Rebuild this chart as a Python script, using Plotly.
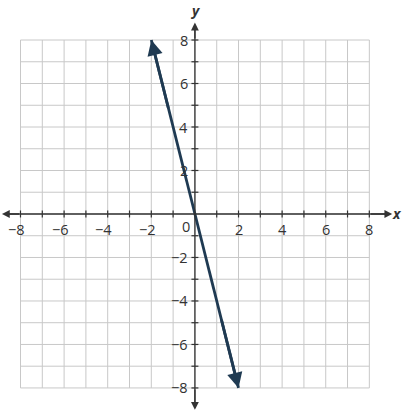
import plotly.graph_objects as go

# grid and tick values
grid_vals = list(range(-8, 9))
label_vals = [-8, -6, -4, -2, 2, 4, 6, 8]

# the line y = -4x, drawn between its two arrow tips
line_x = [-2, 2]
line_y = [8, -8]

LINE = "#1f3a52"
AXIS = "#333333"
GRID = "#c8c8c8"
FONT = "Open Sans"

fig = go.Figure()

shapes = []
for v in grid_vals:
    shapes.append(dict(type="line", x0=v, x1=v, y0=-8, y1=8, line=dict(color=GRID, width=1), layer="below"))
    shapes.append(dict(type="line", x0=-8, x1=8, y0=v, y1=v, line=dict(color=GRID, width=1), layer="below"))

# axes
shapes.append(dict(type="line", x0=-8.7, x1=8.9, y0=0, y1=0, line=dict(color=AXIS, width=1.3)))
shapes.append(dict(type="line", x0=0, x1=0, y0=-8.85, y1=8.6, line=dict(color=AXIS, width=1.3)))

# tick marks
for v in grid_vals:
    if v == 0:
        continue
    shapes.append(dict(type="line", x0=v, x1=v, y0=-0.16, y1=0.16, line=dict(color=AXIS, width=1.2)))
    shapes.append(dict(type="line", x0=-0.16, x1=0.16, y0=v, y1=v, line=dict(color=AXIS, width=1.2)))

annotations = []
# axis arrowheads
for tip, tail in [((9.05, 0), (8.0, 0)), ((-8.85, 0), (-8.0, 0)), ((0, 8.8), (0, 8.0)), ((0, -9.0), (0, -8.0))]:
    annotations.append(dict(x=tip[0], y=tip[1], ax=tail[0], ay=tail[1], xref="x", yref="y", axref="x", ayref="y",
                            text="", showarrow=True, arrowhead=2, arrowsize=1.2, arrowwidth=1.3, arrowcolor=AXIS))

# tick labels
for v in label_vals:
    txt = str(v).replace("-", "\u2212")
    annotations.append(dict(x=v, y=0, text=txt, showarrow=False, xref="x", yref="y", yshift=-16,
                            xshift=-4 if v < 0 else 0, font=dict(family=FONT, size=14.5, color="#333")))
    annotations.append(dict(x=0, y=v, text=txt, showarrow=False, xref="x", yref="y", xanchor="right", xshift=-5,
                            font=dict(family=FONT, size=14.5, color="#333")))
annotations.append(dict(x=0, y=0, text="0", showarrow=False, xref="x", yref="y", xanchor="right", xshift=-3,
                        yshift=-13, font=dict(family=FONT, size=14.5, color="#333")))

# axis titles
annotations.append(dict(x=0, y=9.35, text="<b><i>y</i></b>", showarrow=False, xref="x", yref="y", xshift=1,
                        borderpad=0, font=dict(family=FONT, size=14, color="#333")))
annotations.append(dict(x=9.27, y=0, text="<b><i>x</i></b>", showarrow=False, xref="x", yref="y",
                        borderpad=0, font=dict(family=FONT, size=14, color="#333")))

# line arrowheads at both ends
for i in range(2):
    j = 1 - i
    annotations.append(dict(x=line_x[i], y=line_y[i], ax=line_x[i] * 0.8 + line_x[j] * 0.2,
                            ay=line_y[i] * 0.8 + line_y[j] * 0.2, xref="x", yref="y", axref="x", ayref="y",
                            text="", showarrow=True, arrowhead=2, arrowsize=1.1, arrowwidth=2.8, arrowcolor=LINE))

fig.add_trace(go.Scatter(x=line_x, y=line_y, mode="lines", line=dict(color=LINE, width=2.8),
                         hoverinfo="skip", showlegend=False))

fig.update_layout(
    width=404, height=411,
    margin=dict(l=0, r=0, t=0, b=0),
    paper_bgcolor="white", plot_bgcolor="white",
    shapes=shapes, annotations=annotations,
    xaxis=dict(range=[-8.94, 9.59], visible=False, fixedrange=True),
    yaxis=dict(range=[-9.06, 9.84], visible=False, fixedrange=True),
    showlegend=False,
)

fig.write_html("out.html", post_script="document.body.style.margin='0';", config={"displayModeBar": False})
